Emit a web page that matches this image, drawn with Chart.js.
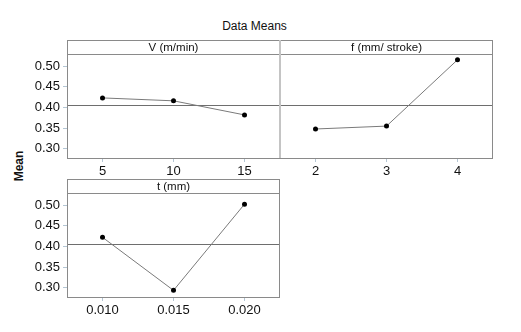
<!DOCTYPE html>
<html>
<head>
<meta charset="utf-8">
<script src="https://cdn.jsdelivr.net/npm/chart.js@4"></script>
<style>
  body { margin: 0; background: #fff; }
  #wrap { position: relative; width: 521px; height: 332px; overflow: hidden; font-family: "Liberation Sans", sans-serif; }
  canvas { position: absolute; }
  #title { position: absolute; left: 0; width: 521px; top: 19px; text-align: center; font-size: 12px; color: #111; margin-left: -6px; }
  #ylab { position: absolute; left: 19px; top: 166px; transform: translate(-50%, -50%) rotate(-90deg); font-size: 12px; font-weight: bold; color: #111; }
</style>
</head>
<body>
<div id="wrap">
  <div id="title">Data Means</div>
  <div id="ylab">Mean</div>
  <canvas id="cV" width="285" height="150" style="left:0;top:30px"></canvas>
  <canvas id="cF" width="230" height="150" style="left:275px;top:30px"></canvas>
  <canvas id="cT" width="285" height="150" style="left:0;top:169px"></canvas>
</div>
<script>
const vLevels = ['5', '10', '15'];
const vMeans = [0.423, 0.416, 0.382];
const fLevels = ['2', '3', '4'];
const fMeans = [0.348, 0.355, 0.515];
const tLevels = ['0.010', '0.015', '0.020'];
const tMeans = [0.422, 0.294, 0.502];
const yTicks = [0.30, 0.35, 0.40, 0.45, 0.50];
const grandMean = 0.406;

// strip header, frame and the grand mean line
const panelPlugin = {
  id: 'panel',
  beforeDatasetsDraw(chart, args, opts) {
    const { ctx, chartArea: a, scales } = chart;
    const y = scales.y.getPixelForValue(grandMean);
    ctx.save();
    ctx.strokeStyle = '#6e6e6e';
    ctx.lineWidth = 1;
    ctx.beginPath();
    ctx.moveTo(a.left, Math.round(y) + 0.5);
    ctx.lineTo(a.right, Math.round(y) + 0.5);
    ctx.stroke();
    ctx.restore();
  },
  afterDraw(chart, args, opts) {
    const { ctx, chartArea: a } = chart;
    const top = a.top - 14;
    ctx.save();
    ctx.strokeStyle = '#8a8a8a';
    ctx.lineWidth = 1;
    ctx.strokeRect(Math.round(a.left) + 0.5, top + 0.5, Math.round(a.right - a.left) - 1, Math.round(a.bottom - top));
    ctx.beginPath();
    ctx.moveTo(a.left, Math.round(a.top) + 0.5);
    ctx.lineTo(a.right, Math.round(a.top) + 0.5);
    ctx.stroke();
    if (opts.divider) {
      ctx.strokeStyle = '#c4c4c4';
      ctx.lineWidth = 2;
      ctx.beginPath();
      ctx.moveTo(a.left, top);
      ctx.lineTo(a.left, a.bottom);
      ctx.stroke();
    }
    ctx.fillStyle = '#111';
    ctx.font = '11.5px "Liberation Sans", sans-serif';
    ctx.textAlign = 'center';
    ctx.textBaseline = 'middle';
    ctx.fillText(opts.label, (a.left + a.right) / 2, top + 7.5);
    ctx.restore();
  }
};

function makePanel(id, levels, means, label, showY, pad, divider) {
  new Chart(document.getElementById(id), {
    type: 'line',
    data: {
      labels: levels,
      datasets: [{
        data: means,
        borderColor: '#7a7a7a',
        borderWidth: 1,
        pointRadius: 2.5,
        pointBackgroundColor: '#000',
        pointBorderColor: '#000',
        pointBorderWidth: 0,
        tension: 0
      }]
    },
    options: {
      responsive: false,
      animation: false,
      layout: { padding: pad },
      plugins: {
        legend: { display: false },
        tooltip: { enabled: false },
        panel: { label: label, divider: divider }
      },
      scales: {
        x: {
          offset: true,
          afterFit: s => { s.height = 22; },
          grid: { drawOnChartArea: false, tickLength: 4, color: '#b4c6d4', offset: false },
          border: { display: false },
          ticks: { color: '#111', font: { size: 13, family: '"Liberation Sans", sans-serif' }, padding: 2 }
        },
        y: {
          display: showY,
          min: 0.278,
          max: 0.529,
          afterBuildTicks: s => { s.ticks = yTicks.map(v => ({ value: v })); },
          afterFit: s => { s.width = showY ? 67 : 0; },
          grid: { drawOnChartArea: false, tickLength: 4, color: '#b4c6d4' },
          border: { display: false },
          ticks: {
            color: '#111',
            padding: 3,
            font: { size: 13, family: '"Liberation Sans", sans-serif' },
            callback: v => v.toFixed(2)
          }
        }
      }
    },
    plugins: [panelPlugin]
  });
}

makePanel('cV', vLevels, vMeans, 'V (m/min)', true, { top: 24, right: 5, left: 0, bottom: 0 }, false);
makePanel('cF', fLevels, fMeans, 'f (mm/ stroke)', false, { top: 24, right: 12, left: 5, bottom: 0 }, true);
makePanel('cT', tLevels, tMeans, 't (mm)', true, { top: 24, right: 5, left: 0, bottom: 0 }, false);
</script>
</body>
</html>
